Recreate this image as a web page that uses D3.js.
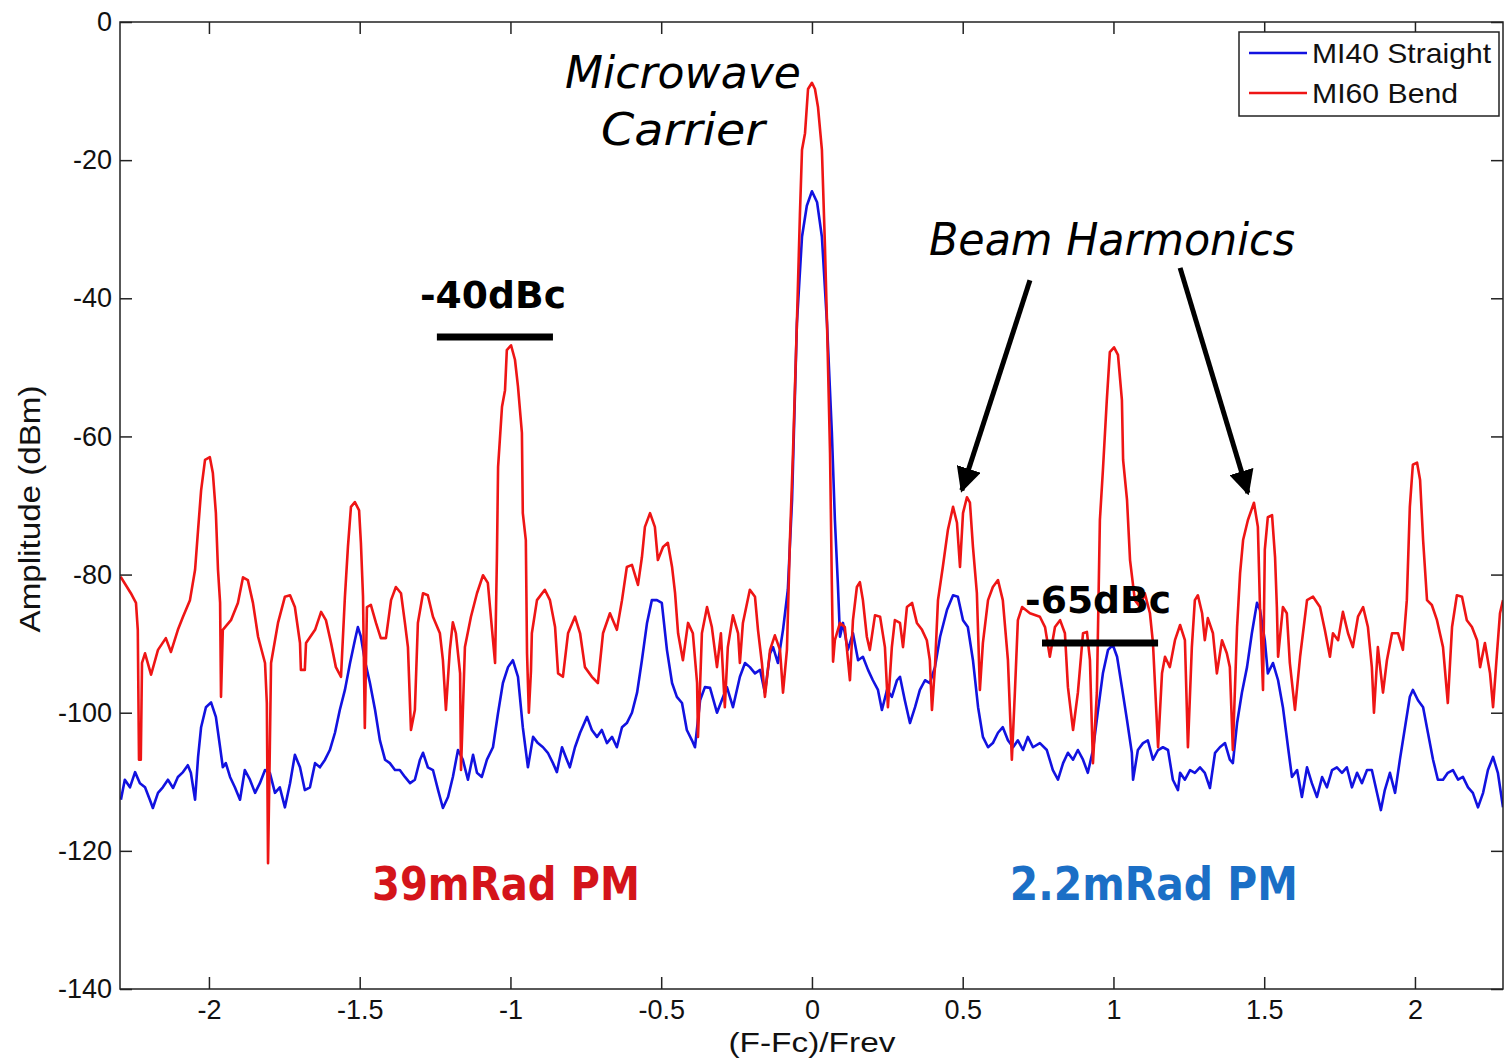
<!DOCTYPE html>
<html>
<head>
<meta charset="utf-8">
<script src="https://cdn.jsdelivr.net/npm/d3@7"></script>
<style>
  body { margin: 0; background: #fff; }
  text { font-family: "Liberation Sans", Arial, sans-serif; }
  .note { font-family: "Comic Sans MS", "DejaVu Sans", sans-serif; }
</style>
</head>
<body>
<svg id="chart" width="1504" height="1061"></svg>
<script>
// series data: x = (F-Fc)/Frev, y = amplitude in dBm
var redX = [-2.293,-2.259,-2.242,-2.236,-2.232,-2.226,-2.222,-2.212,-2.192,-2.169,-2.143,-2.126,-2.103,-2.086,-2.063,-2.046,-2.036,-2.026,-2.013,-1.997,-1.987,-1.977,-1.970,-1.963,-1.960,-1.954,-1.927,-1.904,-1.887,-1.871,-1.854,-1.837,-1.814,-1.808,-1.804,-1.798,-1.794,-1.771,-1.748,-1.731,-1.715,-1.698,-1.695,-1.682,-1.678,-1.648,-1.628,-1.612,-1.595,-1.579,-1.562,-1.549,-1.539,-1.529,-1.516,-1.502,-1.496,-1.489,-1.483,-1.476,-1.463,-1.446,-1.430,-1.413,-1.396,-1.380,-1.363,-1.350,-1.340,-1.330,-1.317,-1.307,-1.290,-1.274,-1.257,-1.234,-1.224,-1.214,-1.201,-1.191,-1.181,-1.167,-1.164,-1.158,-1.151,-1.131,-1.111,-1.091,-1.075,-1.061,-1.051,-1.045,-1.041,-1.028,-1.018,-1.012,-0.998,-0.985,-0.975,-0.962,-0.959,-0.949,-0.945,-0.939,-0.932,-0.929,-0.912,-0.886,-0.869,-0.852,-0.842,-0.826,-0.809,-0.786,-0.769,-0.753,-0.730,-0.710,-0.693,-0.670,-0.647,-0.630,-0.614,-0.597,-0.577,-0.564,-0.554,-0.537,-0.521,-0.511,-0.494,-0.478,-0.464,-0.454,-0.444,-0.428,-0.411,-0.395,-0.381,-0.378,-0.371,-0.365,-0.348,-0.332,-0.315,-0.302,-0.289,-0.279,-0.262,-0.245,-0.239,-0.229,-0.206,-0.189,-0.179,-0.166,-0.156,-0.139,-0.123,-0.106,-0.096,-0.083,-0.073,-0.063,-0.050,-0.040,-0.033,-0.023,-0.013,0.000,0.010,0.020,0.033,0.043,0.050,0.060,0.066,0.070,0.076,0.093,0.109,0.126,0.136,0.149,0.159,0.169,0.182,0.192,0.209,0.226,0.242,0.252,0.265,0.275,0.292,0.302,0.315,0.332,0.348,0.365,0.381,0.391,0.398,0.408,0.418,0.434,0.451,0.468,0.481,0.491,0.501,0.514,0.524,0.534,0.547,0.557,0.567,0.584,0.600,0.617,0.633,0.650,0.663,0.673,0.683,0.697,0.723,0.756,0.773,0.789,0.806,0.823,0.839,0.849,0.866,0.882,0.899,0.912,0.922,0.932,0.945,0.955,0.965,0.978,0.988,1.002,1.015,1.028,1.032,1.045,1.055,1.071,1.088,1.104,1.121,1.131,1.148,1.161,1.171,1.187,1.204,1.221,1.237,1.247,1.260,1.270,1.280,1.294,1.303,1.313,1.330,1.343,1.360,1.376,1.386,1.396,1.410,1.420,1.430,1.446,1.466,1.479,1.486,1.496,1.502,1.512,1.526,1.536,1.542,1.546,1.562,1.575,1.585,1.602,1.619,1.642,1.662,1.685,1.701,1.718,1.728,1.745,1.761,1.778,1.794,1.811,1.828,1.844,1.857,1.864,1.877,1.894,1.907,1.924,1.944,1.960,1.973,1.983,1.993,2.007,2.017,2.027,2.040,2.056,2.073,2.093,2.109,2.123,2.139,2.156,2.172,2.189,2.206,2.216,2.232,2.249,2.259,2.272,2.282,2.292];
var redY = [-80.3,-82.7,-84.1,-88,-106.8,-106.8,-92.8,-91.4,-94.5,-90.9,-89.2,-91.2,-88,-86.1,-83.7,-79.3,-73.5,-67.8,-63.4,-63,-65.3,-71.1,-79.3,-84.1,-97.7,-88,-86.6,-84.1,-80.4,-80.8,-84.1,-89,-92.8,-98.6,-121.8,-105,-92.8,-87,-83.2,-83,-84.7,-89.9,-93.8,-93.8,-89.9,-88,-85.4,-86.6,-89.9,-93.4,-94.8,-83.2,-76,-70.2,-69.5,-70.7,-75.4,-83.2,-102.2,-84.7,-84.4,-87,-89.2,-89.2,-83.7,-81.8,-82.7,-87,-90.5,-102.5,-99.6,-87,-82.7,-83,-86.1,-88.5,-92.4,-99.6,-90.9,-86.9,-88.5,-94.3,-108.3,-100,-90.5,-86.1,-82.7,-80.1,-81.2,-88,-92.8,-77.9,-64.4,-55.7,-53.3,-47.5,-46.8,-48.9,-52.8,-59.5,-71.1,-75,-91.4,-100,-94,-88.5,-83.7,-82.2,-83.7,-87.6,-94.3,-94.8,-88.5,-86.1,-88.5,-93.4,-94.8,-95.7,-88.5,-85.6,-88,-83.7,-78.9,-78.6,-81.5,-77.5,-73.1,-71.1,-73.1,-77.9,-76,-75.4,-78.9,-82.7,-88.5,-92.4,-87,-88.5,-95.7,-103.5,-96,-88.5,-84.7,-87.6,-93.4,-88.5,-99.2,-90.5,-85.9,-88.5,-92.8,-87,-82.2,-83.2,-88,-92.8,-97.7,-90.9,-88.8,-90.9,-97.1,-90.9,-75,-62.5,-43.7,-28,-18.5,-16.1,-9.7,-8.8,-9.7,-12.3,-18.5,-32.3,-43.7,-62.5,-81.4,-92.6,-89.5,-87,-87.6,-95.3,-86.6,-81.8,-81.1,-83.7,-89,-90.9,-85.9,-86.1,-90.5,-99.2,-90.5,-86.6,-87,-90.5,-84.7,-84.1,-87,-88,-89.5,-92.4,-99.6,-93.4,-83.7,-78.9,-73.5,-70.2,-72.5,-78.9,-71.1,-68.8,-69.6,-76,-82.7,-96.7,-89.9,-83.7,-81.8,-80.8,-83.7,-92.4,-106.8,-97.1,-86.6,-84.7,-85.6,-86.1,-87.6,-91.9,-87.6,-86.6,-88.5,-96.3,-102.5,-97.1,-88.5,-88.3,-92.4,-107.3,-97.1,-72.1,-64.9,-54.7,-47.8,-47.1,-48.2,-54.7,-63.4,-69.2,-77.9,-83.7,-84.7,-82.7,-85.6,-89.9,-105,-94.3,-91.9,-93.4,-89.5,-87.3,-89.5,-105,-90.5,-83.7,-83,-85.6,-89.5,-86.3,-88.5,-94.3,-89.5,-91.4,-93.4,-105.4,-87.6,-79.8,-75,-72.1,-69.6,-73.1,-84.7,-96.7,-76.4,-71.7,-71.4,-77.5,-84.7,-91.9,-84.7,-85.6,-92.8,-99.6,-91.9,-83.7,-83.2,-84.7,-88,-91.9,-88.5,-89.5,-85.4,-88.5,-90.5,-86.1,-84.7,-87.6,-93.4,-100,-90.5,-97.1,-92.4,-88.5,-88.5,-90.9,-83.7,-70.2,-64.1,-63.8,-66.3,-75,-83.7,-84.4,-86.6,-90.5,-98.6,-87.6,-83,-83.2,-86.6,-87.6,-89.5,-93.4,-89.9,-94.3,-99.2,-91.4,-85.6,-83.7];

var blueX = [-2.292,-2.279,-2.262,-2.245,-2.229,-2.212,-2.196,-2.186,-2.169,-2.153,-2.136,-2.119,-2.103,-2.086,-2.070,-2.060,-2.046,-2.036,-2.026,-2.010,-1.993,-1.977,-1.963,-1.954,-1.944,-1.930,-1.914,-1.897,-1.881,-1.864,-1.847,-1.831,-1.814,-1.798,-1.781,-1.765,-1.748,-1.731,-1.715,-1.698,-1.682,-1.665,-1.648,-1.632,-1.615,-1.599,-1.582,-1.566,-1.549,-1.532,-1.516,-1.506,-1.496,-1.483,-1.466,-1.449,-1.433,-1.416,-1.400,-1.383,-1.367,-1.350,-1.333,-1.317,-1.300,-1.290,-1.274,-1.257,-1.240,-1.224,-1.207,-1.191,-1.174,-1.158,-1.141,-1.124,-1.111,-1.095,-1.078,-1.058,-1.041,-1.025,-1.008,-0.992,-0.975,-0.959,-0.942,-0.925,-0.909,-0.892,-0.876,-0.859,-0.846,-0.829,-0.813,-0.803,-0.786,-0.769,-0.746,-0.730,-0.713,-0.697,-0.680,-0.663,-0.647,-0.630,-0.614,-0.597,-0.580,-0.564,-0.547,-0.531,-0.514,-0.498,-0.481,-0.464,-0.448,-0.431,-0.415,-0.398,-0.388,-0.371,-0.355,-0.338,-0.315,-0.299,-0.282,-0.262,-0.239,-0.222,-0.206,-0.189,-0.172,-0.156,-0.139,-0.129,-0.113,-0.096,-0.080,-0.066,-0.050,-0.033,-0.017,0.000,0.017,0.033,0.050,0.066,0.076,0.086,0.093,0.103,0.119,0.136,0.153,0.169,0.186,0.202,0.219,0.232,0.249,0.265,0.282,0.292,0.308,0.325,0.342,0.358,0.375,0.391,0.408,0.425,0.448,0.468,0.484,0.501,0.517,0.534,0.551,0.567,0.584,0.600,0.617,0.633,0.650,0.667,0.683,0.700,0.716,0.733,0.756,0.779,0.799,0.816,0.833,0.849,0.866,0.882,0.899,0.915,0.932,0.949,0.965,0.982,0.998,1.012,1.028,1.045,1.061,1.065,1.081,1.098,1.114,1.131,1.148,1.164,1.181,1.197,1.214,1.221,1.237,1.254,1.270,1.287,1.303,1.320,1.337,1.353,1.370,1.386,1.396,1.410,1.426,1.443,1.459,1.476,1.486,1.502,1.512,1.529,1.546,1.562,1.579,1.592,1.609,1.625,1.642,1.658,1.675,1.692,1.708,1.725,1.741,1.758,1.774,1.791,1.808,1.824,1.841,1.857,1.874,1.887,1.900,1.917,1.934,1.950,1.967,1.983,1.993,2.010,2.027,2.043,2.060,2.076,2.093,2.109,2.126,2.143,2.159,2.176,2.192,2.209,2.226,2.242,2.259,2.275,2.292];
var blueY = [-112.6,-109.7,-110.8,-108.6,-110.2,-110.8,-112.6,-113.8,-111.6,-110.8,-109.7,-110.9,-109.3,-108.6,-107.6,-108.7,-112.6,-106.4,-102.1,-99.2,-98.5,-100.6,-105,-107.9,-107.3,-109.3,-110.8,-112.6,-108.3,-109.7,-111.6,-110.2,-108.3,-108.7,-111.6,-110.8,-113.7,-110.2,-106.1,-107.9,-111.2,-110.8,-107.3,-107.9,-106.8,-105.4,-102.9,-99.6,-96.7,-92.8,-89.5,-87.6,-89,-92.4,-95.7,-99.6,-104,-106.8,-107.3,-108.3,-108.3,-109.3,-110.2,-109.7,-106.8,-105.8,-107.9,-108.3,-111.2,-113.8,-112.2,-109.3,-105.4,-106.8,-109.7,-106.1,-108.7,-109.3,-106.8,-105,-100,-95.7,-93.4,-92.4,-94.8,-102.1,-107.9,-103.5,-104.4,-105,-105.8,-107.3,-108.6,-105,-106.8,-107.9,-105,-102.9,-100.6,-102.5,-103.5,-102.5,-104.4,-103.5,-105,-102.1,-101.5,-100,-97.1,-92.4,-87,-83.7,-83.7,-84.1,-90.9,-95.7,-97.7,-98.6,-102.5,-104,-105,-98.2,-96.3,-96.4,-100,-98.2,-96.3,-99.2,-94.8,-92.8,-93.4,-94.3,-93.8,-97.1,-91.4,-90.5,-92.8,-88,-82.2,-69.2,-43.7,-31.1,-26.6,-24.5,-26.1,-31.1,-43.7,-59.4,-72,-81.4,-89,-87,-90.9,-88.5,-92.4,-91.9,-93.8,-95.3,-96.7,-99.6,-96.7,-97.7,-95.3,-94.8,-98.2,-101.5,-99.2,-96.7,-95.3,-95.7,-93.4,-89,-85.1,-83,-83.2,-86.6,-87.6,-92.4,-99.2,-103.5,-105,-104.4,-102.9,-102.1,-104,-105,-104,-105.4,-103.5,-105,-104.4,-105.4,-108.3,-109.7,-107.3,-105.8,-106.8,-105.4,-106.8,-108.7,-105.4,-99.6,-94.3,-90.9,-90.2,-91.9,-96.3,-101.1,-105.8,-109.7,-105.4,-104.4,-104,-106.8,-105.4,-105,-105.4,-109.7,-111.2,-108.7,-109.7,-108.3,-108.7,-107.9,-108.7,-110.9,-105.8,-105,-104.4,-106.8,-107.3,-101.5,-97.1,-93.4,-88.5,-84.1,-85.1,-89.5,-94.3,-92.8,-95.3,-99.2,-105,-109.3,-108.3,-112.2,-107.9,-110.2,-112.2,-109.3,-110.8,-108.3,-107.9,-108.7,-107.9,-110.8,-108.7,-110.2,-108.3,-108.3,-111.6,-114.1,-111.2,-108.7,-111.6,-106.8,-102.1,-97.7,-96.7,-98.2,-99.2,-102.9,-106.8,-109.7,-109.7,-108.7,-108.3,-109.7,-109.3,-110.8,-111.6,-113.7,-111.6,-108.3,-106.4,-108.7,-113.7];

var seriesNames = ["MI40 Straight", "MI60 Bend"];
var xTicks = [-2, -1.5, -1, -0.5, 0, 0.5, 1, 1.5, 2];
var yTicks = [0, -20, -40, -60, -80, -100, -120, -140];

var margin = {top: 22, right: 1, left: 120, bottom: 72};
var W = 1504, H = 1061;
var width = W - margin.left - margin.right, height = H - margin.top - margin.bottom;

var svg = d3.select("#chart");
var g = svg.append("g").attr("transform", "translate(" + margin.left + "," + margin.top + ")");

var x = d3.scaleLinear().domain([-2.295, 2.292]).range([0, width]);
var y = d3.scaleLinear().domain([-140, 0]).range([height, 0]);

g.append("defs").append("clipPath").attr("id", "clip")
  .append("rect").attr("width", width).attr("height", height);

var line = d3.line().x(function(d) { return x(d[0]); }).y(function(d) { return y(d[1]); });
var blue = d3.zip(blueX, blueY), red = d3.zip(redX, redY);

var plot = g.append("g").attr("clip-path", "url(#clip)");
plot.append("path").datum(blue).attr("d", line)
  .attr("fill", "none").attr("stroke", "#1212e0").attr("stroke-width", 2.6).attr("stroke-linejoin", "round");
plot.append("path").datum(red).attr("d", line)
  .attr("fill", "none").attr("stroke", "#ee1515").attr("stroke-width", 2.6).attr("stroke-linejoin", "round");

// plain hyphen minus like matlab, not the unicode minus
var plain = function(d) { return String(d); };

// axes: matlab box with inward ticks on all four sides
var tickFont = function(sel) {
  sel.select(".domain").remove();
  sel.selectAll("line").attr("stroke", "#222").attr("stroke-width", 1.5);
  sel.selectAll("text").attr("font-size", 27).attr("fill", "#111")
     .attr("font-family", "Liberation Sans, Arial, sans-serif");
};
g.append("g").attr("transform", "translate(0," + height + ")")
  .call(d3.axisBottom(x).tickValues(xTicks).tickSizeInner(-12).tickPadding(11).tickFormat(plain))
  .call(tickFont);
g.append("g")
  .call(d3.axisTop(x).tickValues(xTicks).tickSizeInner(-12).tickFormat(""))
  .call(tickFont);
g.append("g")
  .call(d3.axisLeft(y).tickValues(yTicks).tickSizeInner(-12).tickPadding(8).tickFormat(plain))
  .call(tickFont);
g.append("g").attr("transform", "translate(" + width + ",0)")
  .call(d3.axisRight(y).tickValues(yTicks).tickSizeInner(-12).tickFormat(""))
  .call(tickFont);

g.append("rect").attr("width", width).attr("height", height)
  .attr("fill", "none").attr("stroke", "#222").attr("stroke-width", 1.5);

// axis titles
svg.append("text").attr("x", margin.left + x(0)).attr("y", 1052)
  .attr("text-anchor", "middle").attr("font-size", 27).attr("fill", "#111")
  .attr("textLength", 167).attr("lengthAdjust", "spacingAndGlyphs").text("(F-Fc)/Frev");
svg.append("text").attr("transform", "translate(40," + (margin.top + y(-70.5)) + ") rotate(-90)")
  .attr("text-anchor", "middle").attr("font-size", 29).attr("fill", "#111")
  .attr("textLength", 247).attr("lengthAdjust", "spacingAndGlyphs").text("Amplitude (dBm)");

// legend
var leg = g.append("g").attr("transform", "translate(" + (width - 264) + ",10)");
leg.append("rect").attr("width", 260).attr("height", 84)
  .attr("fill", "#fff").attr("stroke", "#222").attr("stroke-width", 1.5);
var legColors = ["#1212e0", "#ee1515"];
seriesNames.forEach(function(name, i) {
  leg.append("line").attr("x1", 10).attr("x2", 68).attr("y1", 21 + i * 40).attr("y2", 21 + i * 40)
    .attr("stroke", legColors[i]).attr("stroke-width", 2.5);
  leg.append("text").attr("x", 73).attr("y", 31 + i * 40).attr("font-size", 28).attr("fill", "#111")
    .attr("textLength", i === 0 ? 179 : 146).attr("lengthAdjust", "spacingAndGlyphs").text(name);
});

// annotations
var ann = g.append("g");
function note(txt, cx, cy, size, len, opts) {
  opts = opts || {};
  ann.append("text").attr("class", "note")
    .attr("x", x(cx)).attr("y", y(cy)).attr("text-anchor", "middle")
    .attr("font-size", size).attr("font-style", opts.italic ? "italic" : "normal")
    .attr("font-weight", opts.bold ? "bold" : "normal")
    .attr("fill", opts.color || "#000")
    .attr("textLength", len).attr("lengthAdjust", "spacingAndGlyphs").text(txt);
}
note("Microwave", -0.428, -9.6, 44, 236, {italic: true});
note("Carrier", -0.428, -17.8, 44, 164, {italic: true});
note("Beam Harmonics", 0.995, -33.7, 44, 366, {italic: true});
note("-40dBc", -1.058, -41.4, 38, 146, {bold: true});
note("-65dBc", 0.949, -85.6, 38, 146, {bold: true});
note("39mRad PM", -1.015, -127.1, 46, 268, {bold: true, color: "#d4141a"});
note("2.2mRad PM", 1.134, -127.1, 46, 288, {bold: true, color: "#1b6fc6"});

// level bars
[[-1.244, -0.859, -45.6], [0.763, 1.148, -89.9]].forEach(function(b) {
  ann.append("line").attr("x1", x(b[0])).attr("x2", x(b[1])).attr("y1", y(b[2])).attr("y2", y(b[2]))
    .attr("stroke", "#000").attr("stroke-width", 7);
});

// arrows to the beam harmonics
ann.append("defs").append("marker").attr("id", "head")
  .attr("viewBox", "0 0 10 10").attr("refX", 9).attr("refY", 5)
  .attr("markerWidth", 5).attr("markerHeight", 5).attr("markerUnits", "strokeWidth")
  .attr("orient", "auto")
  .append("path").attr("d", "M0,0 L10,5 L0,10 z").attr("fill", "#000");
[[0.723, -37.4, 0.497, -67.8], [1.221, -35.6, 1.446, -68.2]].forEach(function(a) {
  ann.append("line").attr("x1", x(a[0])).attr("y1", y(a[1])).attr("x2", x(a[2])).attr("y2", y(a[3]))
    .attr("stroke", "#000").attr("stroke-width", 5).attr("marker-end", "url(#head)");
});
</script>
</body>
</html>
